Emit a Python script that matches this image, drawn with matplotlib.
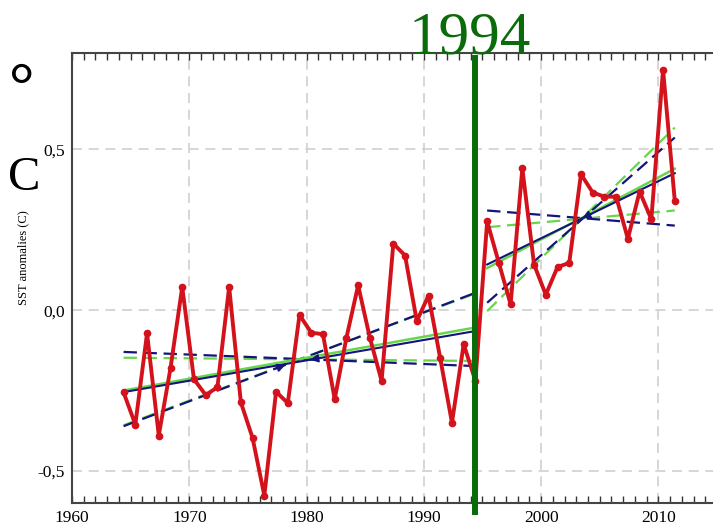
import matplotlib.pyplot as plt
import numpy as np
from matplotlib.ticker import FuncFormatter, MultipleLocator

# annual SST anomalies (C)
years = np.arange(1964, 2012)
sst = [-0.256, -0.356, -0.072, -0.390, -0.180, 0.072, -0.215, -0.264, -0.240, 0.072,
       -0.287, -0.398, -0.577, -0.254, -0.289, -0.015, -0.070, -0.075, -0.277, -0.086,
       0.077, -0.086, -0.220, 0.207, 0.170, -0.034, 0.045, -0.150, -0.350, -0.106,
       -0.220, 0.276, 0.147, 0.018, 0.441, 0.142, 0.048, 0.134, 0.147, 0.423,
       0.366, 0.353, 0.353, 0.222, 0.369, 0.283, 0.748, 0.340]

break_year = 1994

# trend lines for the two periods: (start, end) values
seg_years = [(1964, 1994), (1995, 2011)]
trend_navy = [(-0.255, -0.065), (0.142, 0.426)]
trend_green = [(-0.250, -0.054), (0.131, 0.440)]
upper_navy = [(-0.361, 0.054), (0.023, 0.537)]
upper_green = [(-0.358, 0.052), (-0.003, 0.568)]
flat_navy = [(-0.130, -0.174), (0.310, 0.263)]
flat_green = [(-0.148, -0.158), (0.258, 0.310)]

# arrow heads sitting on the fits: (year, which fit, direction)
arrows = [(1980.3, 0, 'trend', -1), (1978.2, 0, 'upper', 1), (2003.5, 1, 'trend', -1)]

mid = 0.4  # annual means sit inside the year
red = '#d3121c'
navy = '#14147a'
green = '#66d64a'
dark_green = '#0a6b0a'

plt.rcParams['font.family'] = ['Liberation Serif', 'DejaVu Serif']

fig = plt.figure(figsize=(7.13, 5.27), dpi=100)
ax = fig.add_axes([72 / 713, 24 / 527, 645 / 713, 450 / 527])

for i, (y0, y1) in enumerate(seg_years):
    xs = [y0 + mid, y1 + mid]
    ax.plot(xs, upper_green[i], color=green, lw=1.6, ls=(0, (6, 3)), zorder=3)
    ax.plot(xs, flat_green[i], color=green, lw=1.6, ls=(0, (6, 3)), zorder=3)
    ax.plot(xs, upper_navy[i], color=navy, lw=1.6, ls=(0, (6, 3)), zorder=3)
    ax.plot(xs, flat_navy[i], color=navy, lw=1.6, ls=(0, (6, 3)), zorder=3)
    ax.plot(xs, trend_green[i], color=green, lw=1.8, zorder=3)
    ax.plot(xs, trend_navy[i], color=navy, lw=1.5, zorder=3)

fits = {'trend': trend_navy, 'upper': upper_navy}
for yr, seg, name, d in arrows:
    xs = [seg_years[seg][0] + mid, seg_years[seg][1] + mid]
    tip = np.interp(yr, xs, fits[name][seg])
    tail = np.interp(yr - d * 0.8, xs, fits[name][seg])
    ax.annotate('', xy=(yr, tip), xytext=(yr - d * 0.8, tail),
                arrowprops=dict(arrowstyle='-|>', color=navy, lw=1.2,
                                mutation_scale=12, shrinkA=0, shrinkB=0), zorder=4)

ax.plot(years + mid, sst, color=red, lw=2.8, marker='o', ms=4.5, zorder=5)

ax.axvline(break_year + mid, ymin=-0.02, ymax=0.989, color=dark_green, lw=4.3,
           clip_on=False, zorder=6)
ax.text(break_year - 0.1, 0.8, str(break_year), color=dark_green, fontsize=44,
        ha='center', va='baseline')

ax.set_xlim(1960, 2015)
ax.set_ylim(-0.6, 0.8)
ax.set_xticks(np.arange(1960, 2011, 10))
ax.xaxis.set_minor_locator(MultipleLocator(1))
ax.set_yticks([-0.5, 0.0, 0.5])
ax.yaxis.set_major_formatter(FuncFormatter(lambda v, p: f"{v:.1f}".replace('.', ',')))

ax.tick_params(axis='x', which='both', direction='in', top=True, bottom=True,
               length=5, width=1, color='#333333', labelsize=12.5, pad=5)
ax.tick_params(axis='y', length=0, labelsize=12.5, pad=5)

ax.grid(True, color='#d0d0d0', lw=1.2, ls=(0, (6, 4)))
ax.set_axisbelow(True)
for s in ['left', 'top', 'bottom']:
    ax.spines[s].set_color('#444444')
    ax.spines[s].set_linewidth(1.5)
ax.spines['right'].set_visible(False)

fig.text(23 / 713, 1 - 258 / 527, 'SST anomalies (C)', rotation=90,
         ha='center', va='center', fontsize=9)
fig.text(22 / 713, 1 - 91 / 527, '°', ha='center', va='center', fontsize=46,
         fontweight='bold')
fig.text(24 / 713, 1 - 178 / 527, 'C', ha='center', va='center', fontsize=35)

fig.savefig('out.png', dpi=100)
